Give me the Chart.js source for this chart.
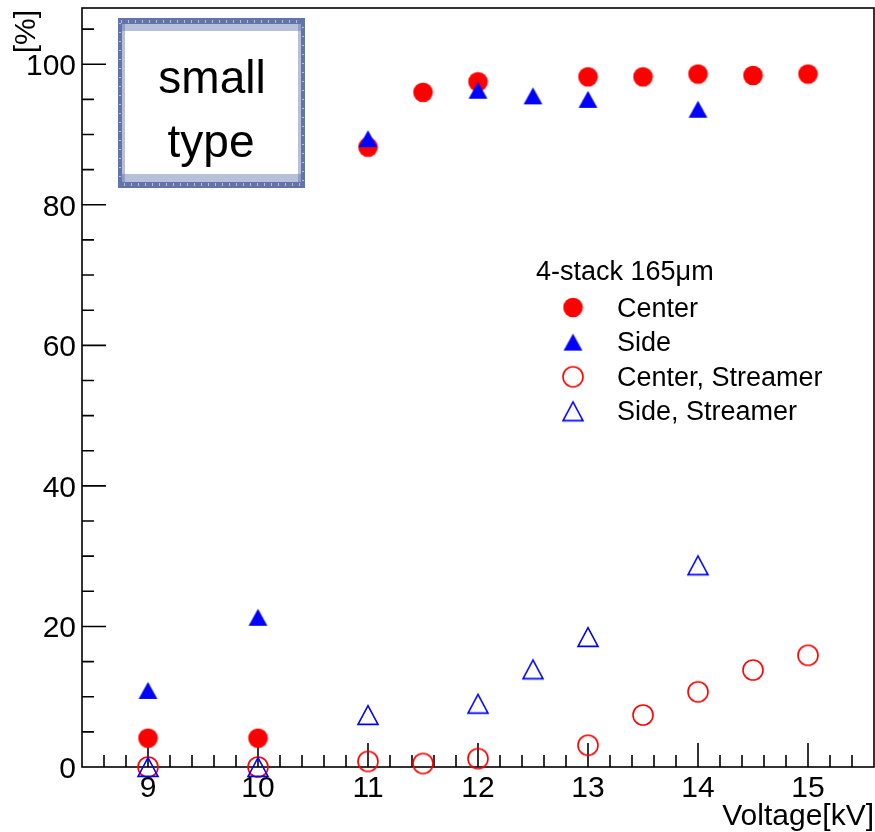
<!DOCTYPE html>
<html>
<head>
<meta charset="utf-8">
<script src="https://cdn.jsdelivr.net/npm/chart.js@4.4.1/dist/chart.umd.min.js"></script>
<style>
  html, body { margin: 0; padding: 0; background: #fff; }
</style>
</head>
<body>
<canvas id="chart" width="875" height="832"></canvas>
<script>
// 4-stack 165μm の検出効率 (Center / Side) とストリーマー発生率
const voltsCenter = [9, 10, 11, 11.5, 12, 13, 13.5, 14, 14.5, 15]
const center = [4.1, 4.1, 88.2, 96.0, 97.5, 98.2, 98.2, 98.6, 98.4, 98.6]
const centerStreamer = [0, 0, 0.8, 0.5, 1.2, 3.1, 7.4, 10.7, 13.8, 15.9]

const voltsSide = [9, 10, 11, 12, 12.5, 13, 14]
const side = [10.9, 21.3, 89.4, 96.3, 95.5, 95.0, 93.6]
const sideStreamer = [0, 0, 7.4, 9.0, 13.9, 18.5, 28.7]

const xTickLabels = ["9", "10", "11", "12", "13", "14", "15"]
const yTickLabels = ["0", "20", "40", "60", "80", "100"]

const legendTitle = "4-stack 165\u03bcm"
const boxLines = ["small", "type"]

const RED = "#ff0000"
const BLUE = "#0000ff"
const FONT = "'Liberation Sans', Arial, sans-serif"

// ROOT 風のマーカーを小さな canvas に描いておく
function makeMarker(size, draw) {
  const c = document.createElement("canvas")
  c.width = size
  c.height = size
  draw(c.getContext("2d"), size / 2)
  return c
}

function trianglePath(ctx, c, hw, hh) {
  ctx.beginPath()
  ctx.moveTo(c - hw, c + hh)
  ctx.lineTo(c + hw, c + hh)
  ctx.lineTo(c, c - hh)
  ctx.closePath()
}

const fullCircle = makeMarker(21, (ctx, c) => {
  ctx.fillStyle = RED
  ctx.beginPath()
  ctx.arc(c, c, 9.8, 0, Math.PI * 2)
  ctx.fill()
})
const openCircle = makeMarker(24, (ctx, c) => {
  ctx.strokeStyle = RED
  ctx.lineWidth = 1.6
  ctx.beginPath()
  ctx.arc(c, c, 10, 0, Math.PI * 2)
  ctx.stroke()
})
const fullTriangle = makeMarker(21, (ctx, c) => {
  trianglePath(ctx, c, 9.4, 8.4)
  ctx.fillStyle = BLUE
  ctx.fill()
})
const openTriangle = makeMarker(24, (ctx, c) => {
  trianglePath(ctx, c, 10, 9.4)
  ctx.strokeStyle = BLUE
  ctx.lineWidth = 1.6
  ctx.lineJoin = "miter"
  ctx.stroke()
})

const toPoints = (xs, ys) => xs.map((x, i) => ({ x, y: ys[i] }))

// 枠・目盛り・ラベル・凡例・"small type" の箱
const rootFrame = {
  id: "rootFrame",
  beforeDatasetsDraw(chart) {
    const { ctx, chartArea: a, scales: { x, y } } = chart
    ctx.save()
    ctx.strokeStyle = "#000"
    ctx.lineWidth = 1.6
    ctx.strokeRect(a.left, a.top, a.right - a.left, a.bottom - a.top)

    ctx.beginPath()
    // x: 0.2 刻みの副目盛り, 1 刻みの主目盛り
    for (let i = Math.ceil(x.min * 5) + 1; i < x.max * 5; i++) {
      const px = x.getPixelForValue(i / 5)
      const len = i % 5 === 0 ? 24 : 12
      ctx.moveTo(px, a.bottom)
      ctx.lineTo(px, a.bottom - len)
    }
    // y: 5 刻みの副目盛り, 20 刻みの主目盛り
    for (let v = 5; v < y.max; v += 5) {
      const py = y.getPixelForValue(v)
      const len = v % 20 === 0 ? 24 : 12
      ctx.moveTo(a.left, py)
      ctx.lineTo(a.left + len, py)
    }
    ctx.stroke()
    ctx.restore()
  },
  afterDraw(chart) {
    const { ctx, scales: { x, y } } = chart
    ctx.save()
    ctx.fillStyle = "#000"
    ctx.font = `30px ${FONT}`

    ctx.textAlign = "center"
    ctx.textBaseline = "alphabetic"
    xTickLabels.forEach(t => ctx.fillText(t, x.getPixelForValue(Number(t)), 797))

    ctx.textAlign = "right"
    yTickLabels.forEach(t => ctx.fillText(t, 76, y.getPixelForValue(Number(t)) + 11))

    ctx.fillText("Voltage[kV]", 874, 825)

    ctx.save()
    ctx.translate(35, 10)
    ctx.rotate(-Math.PI / 2)
    ctx.textAlign = "right"
    ctx.fillText("[%]", 0, 0)
    ctx.restore()

    // 凡例
    ctx.textAlign = "left"
    ctx.font = `27px ${FONT}`
    ctx.fillText(legendTitle, 536, 280)
    chart.data.datasets.forEach((ds, i) => {
      const base = 316.5 + i * 34.6
      const img = ds.pointStyle
      ctx.drawImage(img, 573 - img.width / 2, base - 9 - img.height / 2)
      ctx.fillText(ds.label, 617, base)
    })

    // "small type" の箱
    const bx = 118, by = 18, bw = 187, bh = 170
    ctx.fillStyle = "#fff"
    ctx.fillRect(bx, by, bw, bh)
    ctx.fillStyle = "rgba(98, 116, 170, 0.45)"
    ctx.fillRect(bx, by + 6, bw, 7)
    ctx.fillRect(bx, by + bh - 14, bw, 8)
    ctx.fillRect(bx + 4, by, 3, bh)
    ctx.fillRect(bx + bw - 7, by, 3, bh)
    ctx.fillStyle = "rgb(98, 116, 170)"
    ctx.fillRect(bx, by, bw, 6)
    ctx.fillRect(bx, by + bh - 6, bw, 6)
    ctx.fillRect(bx, by, 4, bh)
    ctx.fillRect(bx + bw - 4, by, 4, bh)
    // 縁のかすれ
    ctx.fillStyle = "rgba(255, 255, 255, 0.55)"
    for (let px = bx + 3; px < bx + bw - 3; px += 7) {
      ctx.fillRect(px, by + 2, 1, 3)
      ctx.fillRect(px + 3, by + bh - 5, 1, 3)
    }
    for (let py = by + 5; py < by + bh - 5; py += 9) {
      ctx.fillRect(bx + 1, py, 2, 1)
      ctx.fillRect(bx + bw - 3, py + 4, 2, 1)
    }

    ctx.fillStyle = "#000"
    ctx.textAlign = "center"
    ctx.font = `46px ${FONT}`
    ctx.fillText(boxLines[0], 212, 93)
    ctx.fillText(boxLines[1], 211, 157)
    ctx.restore()
  }
}

new Chart(document.getElementById("chart"), {
  type: "scatter",
  data: {
    datasets: [
      { label: "Center", data: toPoints(voltsCenter, center), pointStyle: fullCircle, order: 3 },
      { label: "Side", data: toPoints(voltsSide, side), pointStyle: fullTriangle, order: 2 },
      { label: "Center, Streamer", data: toPoints(voltsCenter, centerStreamer), pointStyle: openCircle, order: 1 },
      { label: "Side, Streamer", data: toPoints(voltsSide, sideStreamer), pointStyle: openTriangle, order: 0 }
    ].map(ds => ({ ...ds, pointRadius: 10, showLine: false, clip: false }))
  },
  options: {
    responsive: false,
    animation: false,
    events: [],
    layout: { autoPadding: false, padding: { left: 82, top: 8, right: 1, bottom: 65 } },
    plugins: {
      legend: { display: false },
      tooltip: { enabled: false }
    },
    scales: {
      x: { type: "linear", min: 8.4, max: 15.6, display: false },
      y: { type: "linear", min: 0, max: 108, display: false }
    }
  },
  plugins: [rootFrame]
})
</script>
</body>
</html>
